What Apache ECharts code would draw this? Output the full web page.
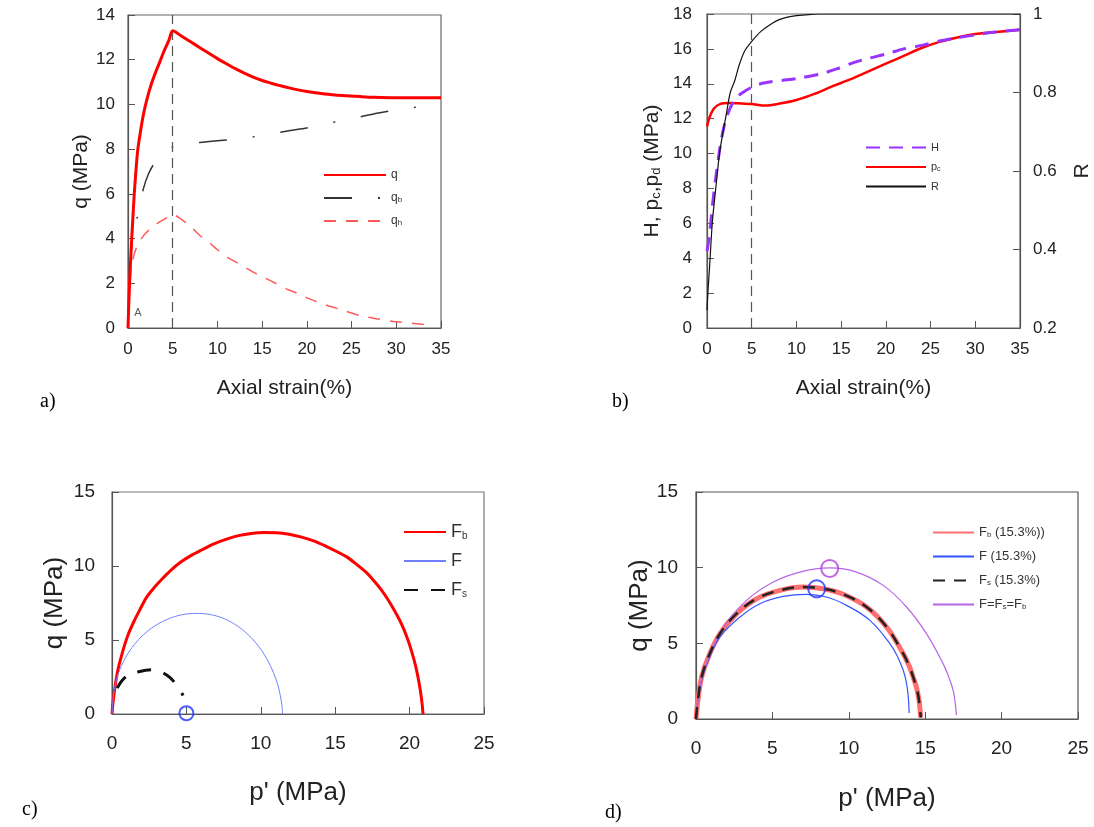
<!DOCTYPE html>
<html>
<head>
<meta charset="utf-8">
<script src="https://cdn.jsdelivr.net/npm/echarts@6/dist/echarts.min.js"></script>
<style>
html,body{margin:0;padding:0;background:#fff;}
#c{width:1094px;height:827px;}
</style>
</head>
<body>
<div id="c"></div>
<script>
// ---------- Panel a: q vs axial strain ----------
const aQStrain = [0,0.1,0.2,0.35,0.5,0.7,0.9,1.1,1.4,1.7,2.1,2.6,3.1,3.6,4.1,4.6,5.0,6,7,8,9,10,11,12,13,14,15,16,17,18,20,22,24,26,27.5,30,35];
const aQ       = [0,1.2,2.2,3.5,4.6,6.0,7.1,8.0,8.8,9.5,10.2,10.9,11.45,11.95,12.45,12.9,13.3,13.05,12.8,12.55,12.3,12.05,11.82,11.6,11.4,11.22,11.07,10.95,10.84,10.74,10.58,10.47,10.4,10.35,10.32,10.3,10.3];
const aQbStrain = [0.2,0.45,0.7,1.0,1.7,2.3,3.0,3.9,5.0,6,8,10,12,14,16,18,20,22,24,26,28,30,32,35];
const aQb       = [2.5,3.8,4.4,4.9,6.2,6.9,7.4,7.8,8.1,8.2,8.3,8.38,8.45,8.55,8.68,8.82,8.95,9.1,9.3,9.45,9.62,9.75,9.87,10.0];
const aQhStrain = [0.15,0.5,1.0,1.5,2.0,3.0,4.0,5.0,6,7,8,9,10,11,12.5,14,15,16.5,18,19,20,22,24,26,28,30,32,34];
const aQh       = [2.1,3.0,3.65,4.0,4.25,4.6,4.85,5.07,4.85,4.55,4.15,3.85,3.5,3.2,2.85,2.5,2.3,2.0,1.7,1.55,1.35,1.05,0.8,0.55,0.4,0.28,0.2,0.12];
const aNote = [[1.1, 0.65, 'A']];
const peakStrain = 5;

// ---------- Panel b: H, pc, R vs axial strain ----------
const bHStrain = [0,0.3,0.6,1.0,1.6,2.2,3.1,4.0,5.0,6.0,7.0,8.5,10.0,12.6,14.5,16.3,18,20,22,24,26,27.5,30,32,35];
const bH       = [4.4,5.4,7.0,8.7,10.8,12.1,13.1,13.5,13.8,14.0,14.1,14.2,14.3,14.55,14.85,15.2,15.45,15.7,16.0,16.2,16.45,16.6,16.8,16.95,17.1];
const bPcStrain = [0,0.3,0.8,1.5,2.5,3.5,5.0,6.5,8.0,10,12,14,16,18,20,22,24,26,28,30,32,35];
const bPc       = [11.55,12.1,12.6,12.85,12.9,12.88,12.84,12.75,12.85,13.07,13.42,13.85,14.25,14.7,15.15,15.6,16.05,16.4,16.65,16.85,16.95,17.1];
const bRStrain = [0,0.1,0.3,0.6,1.0,1.4,1.8,2.2,2.6,3.1,3.6,4.2,5.0,6,7,8,9,10,11,12.5,20,35];
const bR       = [0.245,0.29,0.36,0.47,0.56,0.645,0.70,0.75,0.80,0.83,0.87,0.905,0.93,0.955,0.972,0.985,0.992,0.996,0.998,1.0,1.0,1.0];

// ---------- Panel c: yield surfaces in p'-q ----------
const cFbP = [0,0.05,0.12,0.22,0.36,0.55,0.8,1.1,1.45,1.85,2.3,2.8,3.35,3.95,4.6,5.3,6.05,6.85,7.65,8.5,9.35,10.2,11.05,11.9,12.75,13.55,14.35,15.1,15.8,16.45,17.05,17.6,18.1,18.55,18.95,19.3,19.6,19.87,20.1,20.3,20.47,20.62,20.75,20.85,20.9];
const cFbQ = [0,0.6,1.2,1.95,2.8,3.6,4.5,5.4,6.2,7.0,7.85,8.5,9.1,9.7,10.25,10.7,11.1,11.5,11.8,12.05,12.2,12.26,12.25,12.15,11.95,11.7,11.35,10.98,10.6,10.1,9.6,9.0,8.38,7.72,7.05,6.4,5.75,5.05,4.35,3.65,2.95,2.2,1.4,0.6,0];
const cFP  = [0,0.06,0.18,0.45,0.85,1.35,1.95,2.65,3.4,4.2,5.0,5.8,6.6,7.4,8.15,8.85,9.5,10.05,10.5,10.85,11.12,11.3,11.42,11.46];
const cFQ  = [0,0.9,1.8,2.8,3.7,4.5,5.2,5.8,6.25,6.58,6.76,6.8,6.72,6.5,6.13,5.63,5.0,4.3,3.55,2.8,2.05,1.3,0.6,0];
const cFsP = [0.35,0.96,1.86,2.76,3.65,4.33,4.78];
const cFsQ = [1.75,2.54,2.87,2.99,2.65,1.98,1.25];
const cPoint = [[5.0, 0.05]];

// ---------- Panel d: yield surfaces at 15.3% ----------
const dFbP = [0,0.15,0.37,0.81,1.57,2.66,3.97,5.49,7.02,8.33,9.63,11.16,12.47,13.56,13.95,14.21,14.45,14.6,14.71];
const dFbQ = [0,1.45,2.78,4.1,5.64,6.96,7.95,8.5,8.72,8.61,8.24,7.4,6.08,4.32,3.5,2.78,2.0,1.2,0.1];
const dFsP = [0,0.15,0.37,0.81,1.57,2.66,3.97,5.49,7.02,8.33,9.63,11.16,12.47,13.56,13.95,14.21,14.45,14.6,14.71];
const dFsQ = [0,1.45,2.78,4.1,5.64,6.96,7.95,8.5,8.72,8.61,8.24,7.4,6.08,4.32,3.5,2.78,2.0,1.2,0.1];
const dFP  = [0,0.15,0.4,0.85,1.57,2.88,4.18,5.71,7.24,8.54,9.85,11.38,12.69,13.2,13.56,13.75,13.88,13.95];
const dFQ  = [0,1.4,2.7,4.0,5.42,6.74,7.62,8.1,8.24,8.06,7.51,6.52,4.98,4.1,3.22,2.5,1.6,0.4];
const dAllP = [0,0.15,0.4,0.85,1.79,3.31,5.06,6.8,8.76,10.5,12.25,13.78,15.08,16.17,16.55,16.83,16.97,17.04];
const dAllQ = [0,1.45,2.78,4.1,6.08,7.84,9.05,9.71,9.98,9.71,8.83,7.4,5.64,3.66,2.75,1.89,1.0,0.25];
const dPointF = [[7.9, 8.6]];
const dPointAll = [[8.75, 9.95]];

// ---------- tick settings ----------
const strainTicks = {min:0, max:35, interval:5};
const aQTicks = {min:0, max:14, interval:2};
const bLeftTicks = {min:0, max:18, interval:2};
const bRTicks = {min:0.2, max:1, interval:0.2};
const pTicks = {min:0, max:25, interval:5};
const qTicks = {min:0, max:15, interval:5};

const zip = (xs, ys) => xs.map((x, i) => [x, ys[i]]);
const sub = name => name.replace(/_(\w)/g, (m, c) => '{s|' + c + '}');

const AX = '#555', LB = '#222';
function xAx(grid, t, fs, margin, name, nameGap, nameFs) {
  return Object.assign({
    type:'value', gridIndex:grid, name:name, nameLocation:'middle', nameGap:nameGap,
    nameTextStyle:{fontSize:nameFs, color:LB, fontFamily:'Liberation Sans'},
    axisLine:{lineStyle:{color:AX, width:1.2}},
    axisTick:{inside:true, length:7, lineStyle:{color:AX}},
    axisLabel:{fontSize:fs, color:LB, margin:margin, fontFamily:'Liberation Sans'},
    splitLine:{show:false}
  }, t);
}
function yAx(grid, t, fs, margin, name, nameGap, nameFs, pos, rich, fmt) {
  return Object.assign({
    type:'value', gridIndex:grid, position:pos || 'left', name:name, nameLocation:'middle', nameGap:nameGap,
    nameRotate: 90,
    nameTextStyle:{fontSize:nameFs, color:LB, fontFamily:'Liberation Sans', rich:rich || {}},
    axisLine:{show:true, lineStyle:{color:AX, width:1.2}},
    axisTick:{show:true, inside:true, length:7, lineStyle:{color:AX}},
    axisLabel:{fontSize:fs, color:LB, margin:margin, fontFamily:'Liberation Sans', formatter: fmt},
    splitLine:{show:false}
  }, t);
}

const vline = (grid) => ({
  silent:true, symbol:'none', label:{show:false},
  lineStyle:{type:[10,6], color:'#555', width:1.2},
  data:[{xAxis: peakStrain}]
});

function legend(data, left, top, ih, gap, fs, sfs, iw) {
  return {
    data:data, orient:'vertical', left:left, top:top, itemWidth:iw, itemHeight:ih, itemGap:gap,
    selectedMode:false, padding:0,
    itemStyle:{opacity:0},
    formatter: sub,
    textStyle:{fontSize:fs, color:'#333', fontFamily:'Liberation Sans',
      rich:{s:{fontSize:sfs, color:'#333', verticalAlign:'bottom', fontFamily:'Liberation Sans'}}}
  };
}

const option = {
  animation:false,
  backgroundColor:'#fff',
  grid:[
    {left:128, top:15, width:313, height:313, show:true, borderColor:'#666', borderWidth:1.2},
    {left:707, top:14, width:313, height:314, show:true, borderColor:'#666', borderWidth:1.2},
    {left:112, top:492, width:372, height:222, show:true, borderColor:'#777', borderWidth:1.2},
    {left:696, top:492, width:382, height:227, show:true, borderColor:'#555', borderWidth:1.2}
  ],
  xAxis:[
    xAx(0, strainTicks, 17, 13, 'Axial strain(%)', 50, 21),
    xAx(1, strainTicks, 17, 13, 'Axial strain(%)', 50, 21),
    xAx(2, pTicks, 19, 20, "p' (MPa)", 66, 26),
    xAx(3, pTicks, 19, 20, "p' (MPa)", 67, 26)
  ],
  yAxis:[
    yAx(0, aQTicks, 17, 13, 'q (MPa)', 34, 21),
    yAx(1, bLeftTicks, 17, 15, 'H, p{s|c},p{s|d} (MPa)', 44, 21, 'left', {s:{fontSize:13, verticalAlign:'bottom', color:LB}}),
    yAx(1, bRTicks, 17, 13, 'R', 52, 21, 'right', null, v => (Math.abs(v-1)<1e-9 ? '1' : v.toFixed(1))),
    yAx(2, qTicks, 19, 17, 'q (MPa)', 44, 26),
    yAx(3, qTicks, 19, 18, 'q (MPa)', 41, 26)
  ],
  legend:[
    legend(['q','q_b','q_h'], 323, 169, 10, 11, 12, 8, 62),
    legend(['H','p_c','R'], 865, 142, 10, 8.5, 11, 7, 60),
    legend(['F_b','F','F_s'], 403, 523, 14, 11, 18, 10, 42),
    legend(['F_b (15.3%))','F (15.3%)','F_s (15.3%)','F=F_s=F_b'], 932, 526, 12, 11, 13, 8, 41)
  ],
  graphic:[
    {type:'text', left:40, top:392, style:{text:'a)', font:'20px "Liberation Serif"', fill:'#000'}},
    {type:'text', left:612, top:392, style:{text:'b)', font:'20px "Liberation Serif"', fill:'#000'}},
    {type:'text', left:22, top:800, style:{text:'c)', font:'20px "Liberation Serif"', fill:'#000'}},
    {type:'text', left:605, top:803, style:{text:'d)', font:'20px "Liberation Serif"', fill:'#000'}}
  ],
  series:[
    // panel a
    {name:'q', type:'line', xAxisIndex:0, yAxisIndex:0, data:zip(aQStrain,aQ), symbol:'none', smooth:0.3,
     lineStyle:{color:'#ff0000', width:3}, itemStyle:{color:'#ff0000'}, markLine: vline(0), z:5},
    {name:'q_b', type:'line', xAxisIndex:0, yAxisIndex:0, data:zip(aQbStrain,aQb), symbol:'none', smooth:0.3,
     lineStyle:{color:'#333', width:1.5, type:[28,26,2,26]}, itemStyle:{color:'#333'}},
    {name:'q_h', type:'line', xAxisIndex:0, yAxisIndex:0, data:zip(aQhStrain,aQh), symbol:'none', smooth:0.3,
     lineStyle:{color:'#ff5a5a', width:1.5, type:[12,10]}, itemStyle:{color:'#ff5a5a'}},
    {name:'A', type:'scatter', xAxisIndex:0, yAxisIndex:0, data:aNote, symbolSize:0,
     label:{show:true, position:'inside', formatter: p => p.data[2], fontSize:11, color:'#333', fontFamily:'Liberation Sans'}},
    // panel b
    {name:'H', type:'line', xAxisIndex:1, yAxisIndex:1, data:zip(bHStrain,bH), symbol:'none', smooth:0.3,
     lineStyle:{color:'#9933ff', width:3, type:[14,9]}, itemStyle:{color:'#9933ff'}, markLine: vline(1), z:4},
    {name:'p_c', type:'line', xAxisIndex:1, yAxisIndex:1, data:zip(bPcStrain,bPc), symbol:'none', smooth:0.3,
     lineStyle:{color:'#ff0000', width:2.5}, itemStyle:{color:'#ff0000'}, z:3},
    {name:'R', type:'line', xAxisIndex:1, yAxisIndex:2, data:zip(bRStrain,bR), symbol:'none', smooth:0.3,
     lineStyle:{color:'#111', width:1.2}, itemStyle:{color:'#111'}, z:5},
    // panel c
    {name:'F_b', type:'line', xAxisIndex:2, yAxisIndex:3, data:zip(cFbP,cFbQ), symbol:'none', smooth:0.3,
     lineStyle:{color:'#ff0000', width:3}, itemStyle:{color:'#ff0000'}},
    {name:'F', type:'line', xAxisIndex:2, yAxisIndex:3, data:zip(cFP,cFQ), symbol:'none', smooth:0.3,
     lineStyle:{color:'#7080ff', width:1}, itemStyle:{color:'#7080ff'}},
    {name:'F_s', type:'line', xAxisIndex:2, yAxisIndex:3, data:zip(cFsP,cFsQ), symbol:'none', smooth:0.4,
     lineStyle:{color:'#111', width:3, type:[14,13]}, itemStyle:{color:'#111'}},
    {name:'cPoint', type:'scatter', xAxisIndex:2, yAxisIndex:3, data:cPoint, symbol:'circle', symbolSize:14,
     itemStyle:{color:'rgba(255,255,255,0)', borderColor:'#2233ff', borderWidth:2}, z:6},
    // panel d
    {name:'F_b (15.3%))', type:'line', xAxisIndex:3, yAxisIndex:4, data:zip(dFbP,dFbQ), symbol:'none', smooth:0.4,
     lineStyle:{color:'#ff6f6f', width:5}, itemStyle:{color:'#ff6f6f'}, z:2},
    {name:'F (15.3%)', type:'line', xAxisIndex:3, yAxisIndex:4, data:zip(dFP,dFQ), symbol:'none', smooth:0.4,
     lineStyle:{color:'#3355ff', width:1.2}, itemStyle:{color:'#3355ff'}, z:3},
    {name:'F_s (15.3%)', type:'line', xAxisIndex:3, yAxisIndex:4, data:zip(dFsP,dFsQ), symbol:'none', smooth:0.4,
     lineStyle:{color:'#222', width:2.5, type:[12,9]}, itemStyle:{color:'#222'}, z:4},
    {name:'F=F_s=F_b', type:'line', xAxisIndex:3, yAxisIndex:4, data:zip(dAllP,dAllQ), symbol:'none', smooth:0.4,
     lineStyle:{color:'#b566e8', width:1.2}, itemStyle:{color:'#b566e8'}, z:3},
    {name:'dPointF', type:'scatter', xAxisIndex:3, yAxisIndex:4, data:dPointF, symbol:'circle', symbolSize:17,
     itemStyle:{color:'rgba(255,255,255,0)', borderColor:'#2233ff', borderWidth:2}, z:6},
    {name:'dPointAll', type:'scatter', xAxisIndex:3, yAxisIndex:4, data:dPointAll, symbol:'circle', symbolSize:17,
     itemStyle:{color:'rgba(255,255,255,0)', borderColor:'#b040e0', borderWidth:2}, z:6}
  ]
};

const chart = echarts.init(document.getElementById('c'), null, {renderer:'canvas'});
chart.setOption(option);
</script>
</body>
</html>
